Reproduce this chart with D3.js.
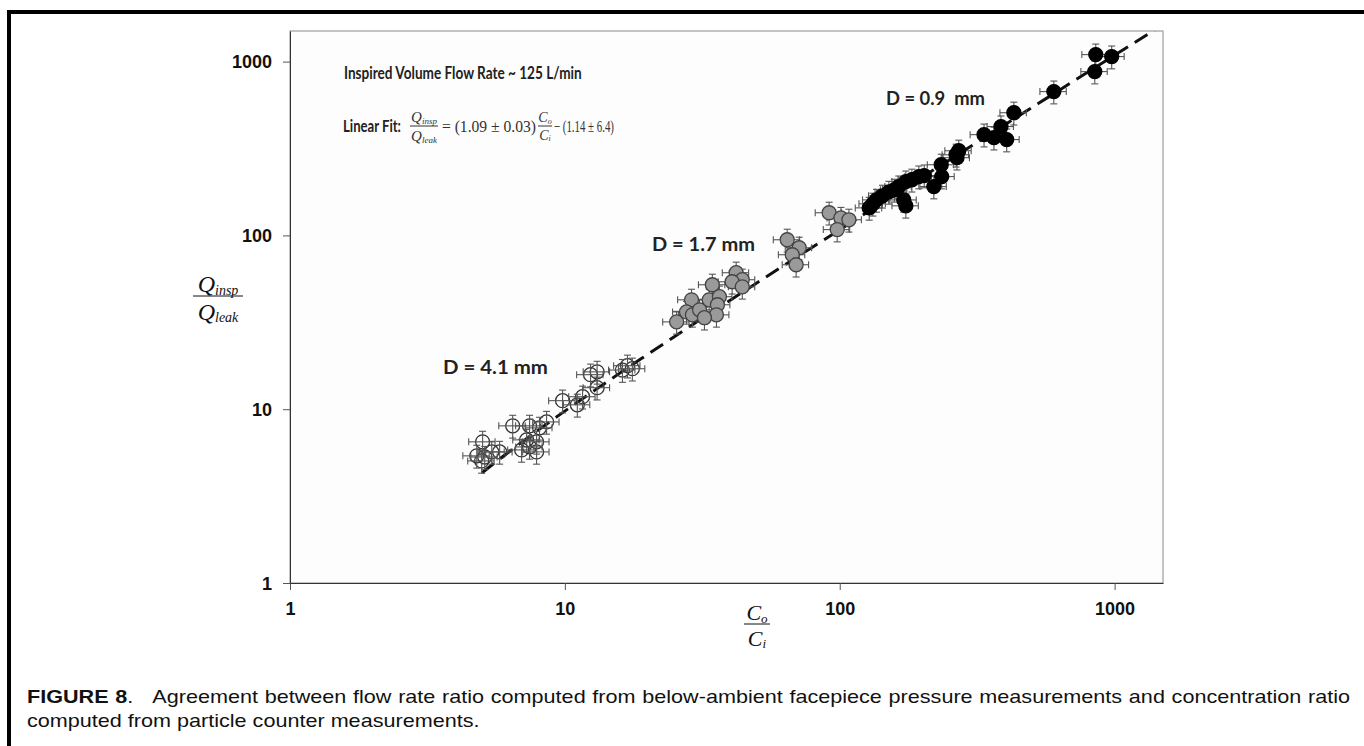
<!DOCTYPE html>
<html><head><meta charset="utf-8">
<script src="https://cdn.jsdelivr.net/npm/d3@7/dist/d3.min.js"></script>
<style>
html,body{margin:0;padding:0;background:#fff;}
svg{display:block;}
</style></head>
<body>
<svg id="chart" width="1364" height="746"></svg>
<script>
// ---------------- DATA ----------------
const xTicks = [1, 10, 100, 1000];
const yTicks = [1, 10, 100, 1000];
const axisDomain = [1, 1500];

// D = 4.1 mm (open circles)
const openX = [5.02, 4.78, 5.11, 5.42, 5.79, 4.98, 6.46, 7.44, 8.58, 8.09, 7.26, 7.89, 6.96, 7.89, 7.44, 9.81, 11.1, 11.6, 13.1, 13.1, 12.4, 16.9, 17.6, 16.2];
const openY = [6.49, 5.39, 5.31, 5.68, 5.68, 5.04, 8.02, 8.02, 8.45, 7.81, 6.66, 6.49, 5.83, 5.68, 6.07, 11.2, 10.6, 11.8, 13.3, 16.4, 15.8, 17.8, 17.1, 16.8];

// D = 1.7 mm (gray circles)
const grayX = [25.5, 28.9, 27.7, 29.1, 30.9, 33.5, 34.4, 36.5, 35.9, 35.6, 42.0, 44.2, 40.6, 44.2, 32.2, 64.4, 71.2, 67.2, 69.4, 91.5, 101, 108, 97.9];
const grayY = [31.8, 42.6, 36.3, 34.9, 37.3, 42.6, 52.0, 44.4, 39.9, 34.9, 61.0, 55.6, 54.1, 50.6, 33.6, 94.4, 84.9, 77.4, 67.8, 135, 126, 123, 108];

// D = 0.9 mm (black circles)
const blackX = [128, 136, 143, 151, 164, 174, 183, 194, 171, 174, 220, 234, 235, 265, 271, 267, 335, 364, 405, 386, 430, 601, 847, 854, 976, 158, 132, 203];
const blackY = [144, 160, 169, 178, 191, 204, 209, 218, 160, 148, 191, 255, 218, 291, 307, 280, 380, 365, 356, 423, 508, 672, 876, 1097, 1069, 183, 152, 221];

// Relative measurement uncertainty drawn as error bars
const xErrFrac = 0.11;
const yErrFrac = 0.15;

// Linear fit: Q = slope * C + intercept
const fitSlope = 1.09;
const fitIntercept = -1.14;
const fitRange = [5, 1500];

const groupLabels = ["D = 4.1 mm", "D = 1.7 mm", "D = 0.9  mm"];
const titleText = "Inspired Volume Flow Rate ~ 125 L/min";
const captionBold = "FIGURE 8";
const captionLine1 = ".   Agreement between flow rate ratio computed from below-ambient facepiece pressure measurements and concentration ratio";
const captionLine2 = "computed from particle counter measurements.";

// ---------------- LAYOUT ----------------
const svg = d3.select("#chart");
const L = 290, R = 1163, T = 31, B = 583;
const x = d3.scaleLog().domain(axisDomain).range([L, R]);
const y = d3.scaleLog().domain(axisDomain).range([B, T]);

// outer frame (top + left)
svg.append("rect").attr("x", 7).attr("y", 10).attr("width", 1364).attr("height", 4).attr("fill", "#000");
svg.append("rect").attr("x", 7).attr("y", 10).attr("width", 4).attr("height", 740).attr("fill", "#000");

// plot area
svg.append("rect").attr("x", L).attr("y", T).attr("width", R - L).attr("height", B - T)
  .attr("fill", "#fdfdfd").attr("stroke", "#8a8a8a").attr("stroke-width", 1);

// axes
const tickFont = "'Liberation Sans', Arial, sans-serif";
const gx = svg.append("g").attr("transform", `translate(0,${B})`)
  .call(d3.axisBottom(x).tickValues(xTicks).tickFormat(d3.format("d")).tickSize(7).tickSizeOuter(0));
gx.select(".domain").attr("stroke", "#333");
gx.selectAll(".tick line").attr("stroke", "#555");
gx.selectAll(".tick text").attr("y", 26).attr("dy", "0.35em")
  .style("font-family", tickFont).style("font-size", "18px").style("font-weight", "bold").attr("fill", "#111");

const gy = svg.append("g").attr("transform", `translate(${L},0)`)
  .call(d3.axisLeft(y).tickValues(yTicks).tickFormat(d3.format("d")).tickSize(7).tickSizeOuter(0));
gy.select(".domain").attr("stroke", "#333");
gy.selectAll(".tick line").attr("stroke", "#555");
gy.selectAll(".tick text").attr("x", -18).attr("dy", "0.35em")
  .style("font-family", tickFont).style("font-size", "18px").style("font-weight", "bold").attr("fill", "#111");

// clip
svg.append("clipPath").attr("id", "clip").append("rect")
  .attr("x", L).attr("y", T).attr("width", R - L).attr("height", B - T);

// fit line
const fitPts = d3.range(0, 61).map(i => {
  const lx = Math.log10(fitRange[0]) + i / 60 * (Math.log10(fitRange[1]) - Math.log10(fitRange[0]));
  const cx = Math.pow(10, lx);
  return [cx, fitSlope * cx + fitIntercept];
});
svg.append("path").attr("clip-path", "url(#clip)")
  .attr("d", d3.line().x(d => x(d[0])).y(d => y(d[1]))(fitPts))
  .attr("fill", "none").attr("stroke", "#111").attr("stroke-width", 3)
  .attr("stroke-dasharray", "15,8");

// points with error bars
function drawSeries(xs, ys, fill, stroke, barsOnTop) {
  const data = xs.map((v, i) => ({ x: v, y: ys[i] }));
  const g = svg.append("g");
  const drawBars = () => {
    const eb = g.selectAll(null).data(data).enter().append("g")
      .attr("stroke", "#555").attr("stroke-width", 1.1);
    const cap = 3.5;
    eb.append("line").attr("x1", d => x(d.x * (1 - xErrFrac))).attr("x2", d => x(d.x * (1 + xErrFrac)))
      .attr("y1", d => y(d.y)).attr("y2", d => y(d.y));
    eb.append("line").attr("x1", d => x(d.x)).attr("x2", d => x(d.x))
      .attr("y1", d => y(d.y * (1 - yErrFrac))).attr("y2", d => y(d.y * (1 + yErrFrac)));
    eb.append("line").attr("x1", d => x(d.x * (1 - xErrFrac))).attr("x2", d => x(d.x * (1 - xErrFrac)))
      .attr("y1", d => y(d.y) - cap).attr("y2", d => y(d.y) + cap);
    eb.append("line").attr("x1", d => x(d.x * (1 + xErrFrac))).attr("x2", d => x(d.x * (1 + xErrFrac)))
      .attr("y1", d => y(d.y) - cap).attr("y2", d => y(d.y) + cap);
    eb.append("line").attr("y1", d => y(d.y * (1 - yErrFrac))).attr("y2", d => y(d.y * (1 - yErrFrac)))
      .attr("x1", d => x(d.x) - cap).attr("x2", d => x(d.x) + cap);
    eb.append("line").attr("y1", d => y(d.y * (1 + yErrFrac))).attr("y2", d => y(d.y * (1 + yErrFrac)))
      .attr("x1", d => x(d.x) - cap).attr("x2", d => x(d.x) + cap);
  };
  if (!barsOnTop) drawBars();
  g.selectAll(null).data(data).enter().append("circle")
    .attr("cx", d => x(d.x)).attr("cy", d => y(d.y)).attr("r", 7)
    .attr("fill", fill).attr("stroke", stroke).attr("stroke-width", 1.3);
  if (barsOnTop) drawBars();
}
drawSeries(openX, openY, "none", "#333", true);
drawSeries(grayX, grayY, "#9a9a9a", "#444", false);
drawSeries(blackX, blackY, "#000", "#000", false);

// text fitted to a width by horizontal scaling (keeps real bounding box)
function fitText(txt, xx, yy, len, size, family, weight, color) {
  const g = svg.append("g");
  const t = g.append("text").attr("x", 0).attr("y", 0).text(txt)
    .style("font-family", family).style("font-weight", weight).style("font-size", size + "px")
    .style("white-space", "pre").attr("fill", color);
  const nat = t.node().getComputedTextLength();
  const sx = len / nat;
  g.attr("transform", `translate(${xx},${yy}) scale(${sx},1)`);
  return g;
}
const labFont = "Lato, 'Open Sans', sans-serif";
fitText(titleText, 344, 79, 238, 17, labFont, "bold", "#222");
fitText("Linear Fit:", 343, 132, 58, 17, labFont, "bold", "#222");
fitText(groupLabels[0], 443, 374, 105, 18, labFont, "bold", "#222");
fitText(groupLabels[1], 652, 251, 103, 18, labFont, "bold", "#222");
fitText(groupLabels[2], 886, 105, 99, 18, labFont, "bold", "#222");

// equation (serif)
const serif = "'Liberation Serif', 'Times New Roman', serif";
function frac(cx, topMain, topSub, botMain, botSub, barY, w, size, subSize, color) {
  const g = svg.append("g").attr("fill", color).style("font-family", serif).style("font-style", "italic");
  const t1 = g.append("text").attr("x", cx).attr("y", barY - 4).attr("text-anchor", "middle").style("font-size", size + "px");
  t1.append("tspan").text(topMain);
  t1.append("tspan").text(topSub).style("font-size", subSize + "px").attr("dy", size * 0.12);
  const t2 = g.append("text").attr("x", cx).attr("y", barY + size * 0.98).attr("text-anchor", "middle").style("font-size", size + "px");
  t2.append("tspan").text(botMain);
  t2.append("tspan").text(botSub).style("font-size", subSize + "px").attr("dy", size * 0.12);
  svg.append("line").attr("x1", cx - w / 2).attr("x2", cx + w / 2).attr("y1", barY).attr("y2", barY)
    .attr("stroke", color).attr("stroke-width", 1);
}
frac(424, "Q", "insp", "Q", "leak", 126, 28, 15, 9, "#333");
fitText("= (1.09 ± 0.03)", 442, 132, 94, 17, serif, "normal", "#333");
frac(545, "C", "o", "C", "i", 126, 14, 14, 8, "#333");
fitText("− (1.14 ± 6.4)", 554, 132, 60, 17, serif, "normal", "#333");

// axis titles (fractions)
frac(218, "Q", "insp", "Q", "leak", 296, 50, 24, 14, "#111");
frac(757, "C", "o", "C", "i", 624, 26, 22, 13, "#111");

// caption (slightly wide face: horizontal scale)
const capFont = "'Liberation Sans', Arial, sans-serif";
const capScale = 1.2;
const cap = svg.append("g").attr("transform", `translate(27,0) scale(${capScale},1)`);
const c1 = cap.append("text").attr("x", 0).attr("y", 703).style("white-space", "pre")
  .style("font-family", capFont).style("font-size", "18px").attr("fill", "#111");
c1.append("tspan").text(captionBold).style("font-weight", "bold");
c1.append("tspan").text(captionLine1);
// justify line 1 to the right margin via word spacing
const natural = c1.node().getComputedTextLength();
const spaces = (captionBold + captionLine1).split(" ").length - 1;
const target = (1350 - 27) / capScale;
if (natural < target) c1.style("word-spacing", ((target - natural) / spaces) + "px");
cap.append("text").attr("x", 0).attr("y", 727).text(captionLine2)
  .style("font-family", capFont).style("font-size", "18px").attr("fill", "#111");
</script>
</body></html>
